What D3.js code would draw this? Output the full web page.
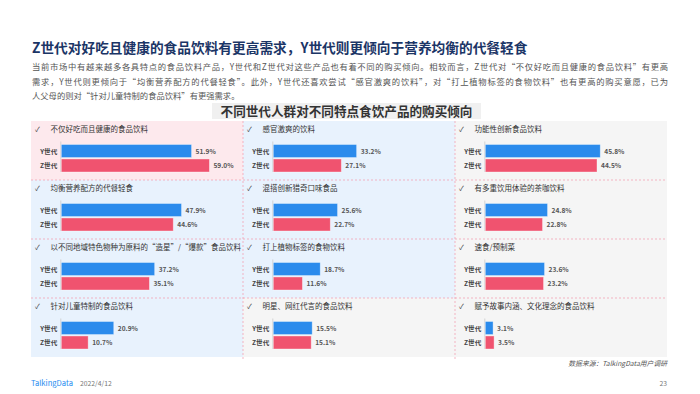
<!DOCTYPE html>
<html lang="zh">
<head>
    <meta charset="UTF-8">
    <title>不同世代人群对不同特点食饮产品的购买倾向</title>
    <script src="https://d3js.org/d3.v7.min.js"></script>
    <style>
        body { margin: 0; background: #fff; font-family: "Noto Sans CJK SC", "Noto Sans", sans-serif; }
        svg { display: block; }
    </style>
</head>
<body>
    <div id="chart"></div>
    <script>
        // data
        const categories = [
            "不仅好吃而且健康的食品饮料", "均衡营养配方的代餐轻食",
            "以不同地域特色物种为原料的“造星”/“爆款”食品饮料", "针对儿童特制的食品饮料",
            "感官激爽的饮料", "混搭创新猎奇口味食品", "打上植物标签的食物饮料", "明星、网红代言的食品饮料",
            "功能性创新食品饮料", "有多重饮用体验的茶咖饮料", "速食/预制菜", "赋予故事内涵、文化理念的食品饮料"
        ];
        const yGen = [51.9, 47.9, 37.2, 20.9, 33.2, 25.6, 18.7, 15.5, 45.8, 24.8, 23.6, 3.1];
        const zGen = [59.0, 44.6, 35.1, 10.7, 27.1, 22.7, 11.6, 15.1, 44.5, 22.8, 23.2, 3.5];
        // which generation leans more: "z", "y" or "same"
        const leaning = ["z", "y", "y", "y", "y", "y", "y", "same", "same", "same", "same", "same"];
        const seriesNames = ["Y世代", "Z世代"];

        const title = "Z世代对好吃且健康的食品饮料有更高需求，Y世代则更倾向于营养均衡的代餐轻食";
        const intro = [
            "当前市场中有越来越多各具特点的食品饮料产品，Y世代和Z世代对这些产品也有着不同的购买倾向。相较而言，Z世代对“不仅好吃而且健康的食品饮料”有更高",
            "需求，Y世代则更倾向于“均衡营养配方的代餐轻食”。此外，Y世代还喜欢尝试“感官激爽的饮料”，对“打上植物标签的食物饮料”也有更高的购买意愿，已为",
            "人父母的则对“针对儿童特制的食品饮料”有更强需求。"
        ];
        const chartTitle = "不同世代人群对不同特点食饮产品的购买倾向";

        const W = 700, H = 394;
        const svg = d3.select("#chart").append("svg")
            .attr("width", W).attr("height", H);

        const bg = { z: "#fde9ed", y: "#e8f2fd", same: "#f5f5f5" };
        const barColor = ["#2b8bec", "#f0536f"];

        // header
        svg.append("text")
            .attr("x", 32).attr("y", 53)
            .attr("font-size", 13.7).attr("font-weight", "bold")
            .attr("fill", "#1b3566")
            .text(title);

        svg.selectAll(".intro")
            .data(intro)
            .enter().append("text")
            .attr("class", "intro")
            .attr("x", 32)
            .attr("y", (d, i) => 70 + i * 14.5)
            .attr("font-size", 8.3)
            .attr("fill", "#555")
            .attr("textLength", (d, i) => i < 2 ? 636 : null)
            .attr("lengthAdjust", "spacing")
            .text(d => d);

        // grid of small panels
        const col = d3.scaleBand().domain([0, 1, 2]).range([31, 667]);
        const row = d3.scaleBand().domain([0, 1, 2, 3]).range([121, 357]);
        const x = d3.scaleLinear().domain([0, 60]).range([0, 150.6]);
        const bars = d3.scaleBand().domain([0, 1]).range([23.5, 51]).paddingInner(0.1);

        const panels = categories.map((c, i) => ({
            name: c, c: Math.floor(i / 4), r: i % 4,
            vals: [yGen[i], zGen[i]], lean: leaning[i]
        }));

        const cell = svg.selectAll(".cell")
            .data(panels)
            .enter().append("g")
            .attr("class", "cell")
            .attr("transform", d => `translate(${col(d.c)},${row(d.r)})`);

        cell.append("rect")
            .attr("width", col.bandwidth())
            .attr("height", row.bandwidth())
            .attr("fill", d => bg[d.lean]);

        // dotted separators
        const dots = svg.append("g")
            .attr("stroke", "#f2a2b4")
            .attr("stroke-width", 0.8)
            .attr("stroke-dasharray", "2,2");
        [1, 2].forEach(c => {
            dots.append("line")
                .attr("x1", col(c)).attr("x2", col(c))
                .attr("y1", row(0)).attr("y2", row(3) + row.bandwidth() + 3);
        });
        [1, 2, 3].forEach(r => {
            dots.append("line")
                .attr("x1", col(0)).attr("x2", col(2) + col.bandwidth())
                .attr("y1", row(r)).attr("y2", row(r));
        });

        cell.append("text")
            .attr("x", 4).attr("y", 11)
            .attr("font-size", 7).attr("fill", "#444")
            .text("✓");

        cell.append("text")
            .attr("x", 19.5).attr("y", 11)
            .attr("font-size", 7.5).attr("fill", "#333")
            .text(d => d.name);

        const axisX = 29.8;
        const plot = cell.append("g")
            .attr("transform", `translate(${axisX},0)`);

        plot.append("line")
            .attr("x1", 0).attr("x2", 0)
            .attr("y1", 20.5).attr("y2", 51)
            .attr("stroke", "#ccc").attr("stroke-width", 0.8);

        const barG = plot.selectAll(".bar")
            .data(d => d.vals.map((v, k) => ({ v, k })))
            .enter().append("g")
            .attr("class", "bar");

        barG.append("rect")
            .attr("x", 0.5)
            .attr("y", d => bars(d.k))
            .attr("width", d => x(d.v))
            .attr("height", bars.bandwidth())
            .attr("fill", d => barColor[d.k])
            .attr("stroke", "#fff")
            .attr("stroke-opacity", 0.45)
            .attr("stroke-width", 0.8);

        barG.append("text")
            .attr("x", d => x(d.v) + 4.5)
            .attr("y", d => bars(d.k) + bars.bandwidth() / 2 + 2.5)
            .attr("font-size", 6.6).attr("font-weight", "bold").attr("fill", "#555")
            .text(d => d.v.toFixed(1) + "%");

        barG.append("text")
            .attr("x", -3.5)
            .attr("y", d => bars(d.k) + bars.bandwidth() / 2 + 2.5)
            .attr("text-anchor", "end")
            .attr("font-size", 6.6).attr("font-weight", "bold").attr("fill", "#444")
            .text(d => seriesNames[d.k]);

        // chart title box
        svg.append("rect")
            .attr("x", 212).attr("y", 103)
            .attr("width", 269).attr("height", 16)
            .attr("fill", "#f0f0f0");
        svg.append("text")
            .attr("x", 346.5).attr("y", 116)
            .attr("text-anchor", "middle")
            .attr("font-size", 12.6).attr("font-weight", "bold")
            .attr("fill", "#333")
            .text(chartTitle);

        // footer
        svg.append("text")
            .attr("x", 667).attr("y", 366)
            .attr("text-anchor", "end")
            .attr("font-size", 6.8).attr("font-style", "italic").attr("fill", "#555")
            .text("数据来源：TalkingData用户调研");
        svg.append("text")
            .attr("x", 31).attr("y", 386)
            .attr("font-size", 7.6).attr("fill", "#1e8bf0")
            .text("TalkingData");
        svg.append("text")
            .attr("x", 80).attr("y", 386)
            .attr("font-size", 6.8).attr("fill", "#777")
            .text("2022/4/12");
        svg.append("text")
            .attr("x", 667).attr("y", 386)
            .attr("text-anchor", "end")
            .attr("font-size", 6.8).attr("font-style", "normal").attr("fill", "#777")
            .text("23");
    </script>
</body>
</html>
